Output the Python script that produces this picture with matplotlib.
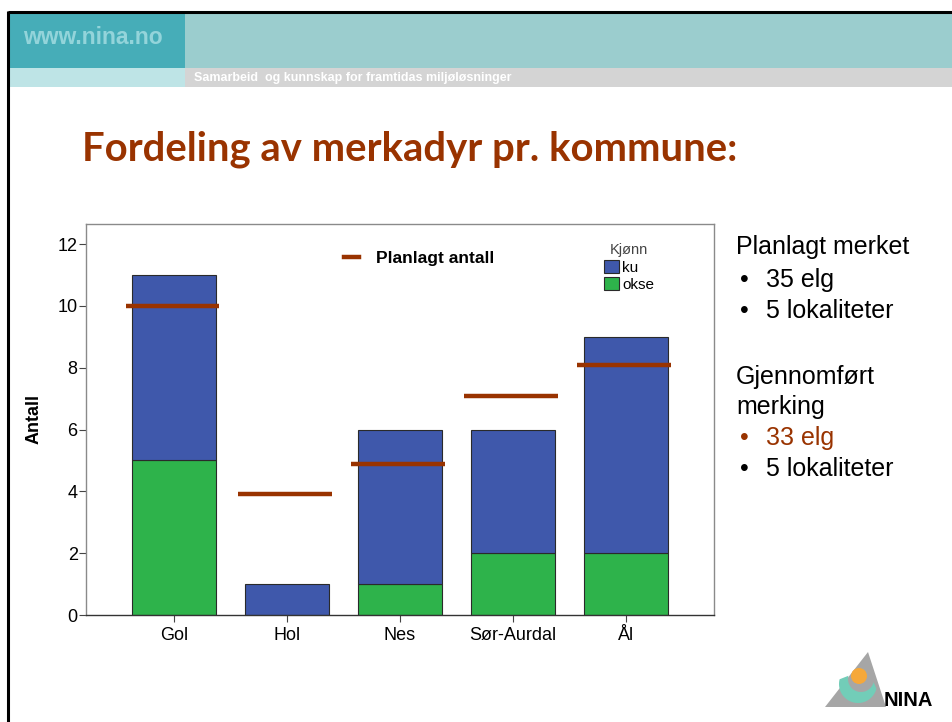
import numpy as np
import matplotlib
matplotlib.use('Agg')
import matplotlib.pyplot as plt
from matplotlib.patches import Rectangle, Polygon, Circle
from matplotlib.lines import Line2D

plt.rcParams['font.family'] = ['Liberation Sans', 'DejaVu Sans']

# data
kommuner = ['Gol', 'Hol', 'Nes', 'Sør-Aurdal', 'Ål']
okse = [5, 0, 1, 2, 2]
ku = [6, 1, 5, 4, 7]
planlagt = [10.0, 3.9, 4.9, 7.1, 8.1]
yticks = [0, 2, 4, 6, 8, 10, 12]

blue = '#3F58AB'
green = '#2EB34B'
brown = '#993300'

fig = plt.figure(figsize=(9.53, 7.22), dpi=100)

# bakgrunn i pikselkoordinater (header, ramme, logo)
bg = fig.add_axes([0, 0, 1, 1], zorder=0)
bg.set_xlim(0, 953)
bg.set_ylim(722, 0)
bg.axis('off')

bg.add_patch(Rectangle((10, 13), 175, 55, color='#46ADB8', lw=0))
bg.add_patch(Rectangle((185, 13), 768, 55, color='#9BCDCE', lw=0))
bg.add_patch(Rectangle((10, 68), 175, 19, color='#BEE4E6', lw=0))
bg.add_patch(Rectangle((185, 68), 768, 19, color='#D4D4D4', lw=0))
bg.plot([8.5, 953], [12, 12], color='black', lw=2.2, solid_capstyle='butt')
bg.plot([8.5, 8.5], [11, 722], color='black', lw=2.2, solid_capstyle='butt')

bg.text(23, 38, 'www.nina.no', fontsize=16.5, fontweight='bold', color='#93D4DA', va='center')
bg.text(194, 78, 'Samarbeid  og kunnskap for framtidas miljøløsninger', fontsize=9,
        fontweight='bold', color='white', va='center')

bg.text(82, 160, 'Fordeling av merkadyr pr. kommune:', fontsize=28.8, fontweight='bold',
        color=brown, va='baseline', family=['Lato', 'Open Sans', 'DejaVu Sans'])

# tekst til hoyre
rx, bx, tx = 736, 740, 766
fs = 18
bg.text(rx, 247, 'Planlagt merket', fontsize=fs, va='center')
bg.text(bx, 280, '•', fontsize=fs, va='center')
bg.text(tx, 280, '35 elg', fontsize=fs, va='center')
bg.text(bx, 311, '•', fontsize=fs, va='center')
bg.text(tx, 311, '5 lokaliteter', fontsize=fs, va='center')
bg.text(rx, 377, 'Gjennomført', fontsize=fs, va='center')
bg.text(rx, 407, 'merking', fontsize=fs, va='center')
bg.text(bx, 438, '•', fontsize=fs, va='center', color=brown)
bg.text(tx, 438, '33 elg', fontsize=fs, va='center', color=brown)
bg.text(bx, 469, '•', fontsize=fs, va='center')
bg.text(tx, 469, '5 lokaliteter', fontsize=fs, va='center')

# NINA-logo
bg.add_patch(Polygon([[868, 652], [825, 707], [886, 707]], closed=True, color='#A6A6A6', lw=0))
a_out = np.linspace(np.pi * 0.92, np.pi * 1.92, 50)
a_in = a_out[::-1]
outer = np.column_stack([858 + 19 * np.cos(a_out), 684 - 19 * np.sin(a_out)])
inner = np.column_stack([861 + 13 * np.cos(a_in), 679 - 13 * np.sin(a_in)])
bg.add_patch(Polygon(np.vstack([outer, inner]), closed=True, color='#72CDB8', lw=0))
bg.add_patch(Circle((859, 676), 8, color='#F5A83A', lw=0))
bg.text(884, 700, 'NINA', fontsize=14.5, fontweight='bold', va='center')

# diagrammet
ax = fig.add_axes([86 / 953, 107 / 722, 628 / 953, 391 / 722], zorder=1)
x = np.arange(len(kommuner))
b1 = ax.bar(x, okse, width=0.75, color=green, edgecolor='#2a2a2a', linewidth=0.8, label='okse')
b2 = ax.bar(x, ku, width=0.75, bottom=okse, color=blue, edgecolor='#2a2a2a', linewidth=0.8, label='ku')
ax.hlines(planlagt, x - 0.43, x + 0.40, color=brown, lw=3.2, zorder=4)

ax.set_xlim(-0.78, 4.78)
ax.set_ylim(0, 12.65)
ax.set_yticks(yticks)
ax.set_xticks(x)
ax.set_xticklabels(kommuner, fontsize=13)
ax.tick_params(axis='y', labelsize=13, length=5, pad=1, color='#444')
ax.tick_params(axis='x', length=5, pad=4, color='#444')
ax.set_ylabel('Antall', fontsize=13, fontweight='bold', labelpad=11)
for s in ['top', 'right', 'left']:
    ax.spines[s].set_color('#8a8a8a')
    ax.spines[s].set_linewidth(1.0)
ax.spines['bottom'].set_color('#333333')
ax.spines['bottom'].set_linewidth(1.0)

# forklaring for planlagt antall
ax.add_line(Line2D([0.411, 0.435], [0.916, 0.916], transform=ax.transAxes, color=brown, lw=3.2))
ax.text(0.462, 0.912, 'Planlagt antall', transform=ax.transAxes, fontsize=12.5,
        fontweight='bold', va='center')

leg = ax.legend(handles=[b2, b1], title='Kjønn', frameon=False, loc='upper left',
                bbox_to_anchor=(0.812, 0.97), fontsize=11, title_fontsize=10.5,
                handlelength=1.0, handleheight=0.95, handletextpad=0.2,
                labelspacing=0.15, borderpad=0)
leg.get_title().set_color('#444444')

fig.savefig('out.png', dpi=100)
